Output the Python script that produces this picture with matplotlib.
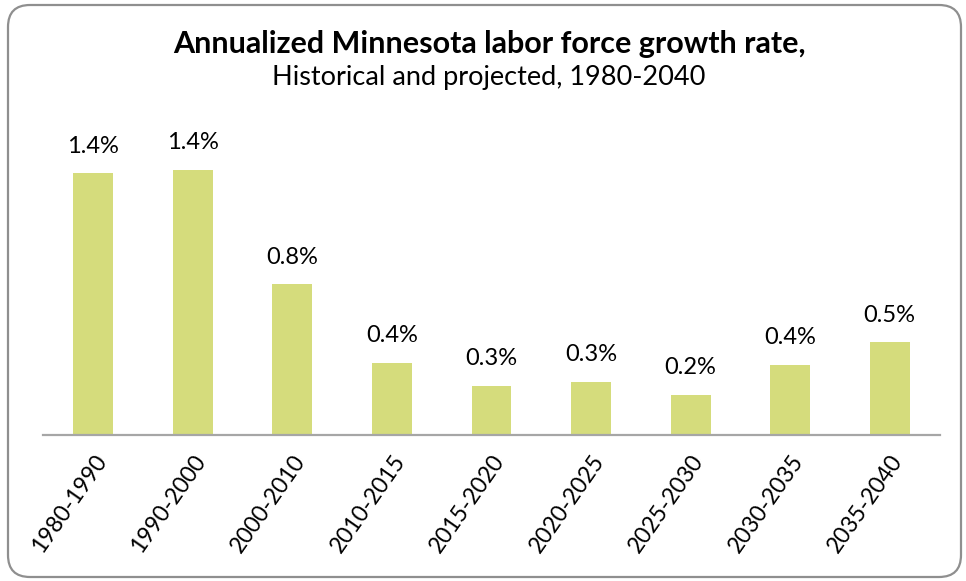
import matplotlib.pyplot as plt
from matplotlib.patches import FancyBboxPatch

periods = ["1980-1990", "1990-2000", "2000-2010", "2010-2015", "2015-2020",
           "2020-2025", "2025-2030", "2030-2035", "2035-2040"]
growth = [1.39, 1.41, 0.80, 0.38, 0.26, 0.28, 0.21, 0.37, 0.49]

title = "Annualized Minnesota labor force growth rate,"
subtitle = "Historical and projected, 1980-2040"

bar_color = "#d5dc7c"
font = ["Lato", "DejaVu Sans"]

plt.rcParams["font.family"] = font

fig = plt.figure(figsize=(9.66, 5.81), dpi=100)

# rounded frame around the whole chart (pixel units)
bg = fig.add_axes([0, 0, 1, 1])
bg.set_xlim(0, 966)
bg.set_ylim(0, 581)
bg.axis("off")
frame = FancyBboxPatch((8, 4), 953, 572, boxstyle="round,pad=0,rounding_size=22",
                       fc="white", ec="#8f8f8f", lw=1.6)
bg.add_patch(frame)

ax = fig.add_axes([43.5 / 966, 1 - 434.5 / 581, 896 / 966, 284.5 / 581])
ax.patch.set_alpha(0)
x = range(len(periods))
bars = ax.bar(x, growth, width=0.4, color=bar_color)
ax.set_xlim(-0.5, len(periods) - 0.5)
ax.set_ylim(0, 1.515)

for rect, v in zip(bars, growth):
    ax.annotate(f"{v:.1f}%", (rect.get_x() + rect.get_width() / 2, v),
                xytext=(0, 12), textcoords="offset points",
                ha="center", va="bottom", fontsize=17)

for side in ["top", "right", "left"]:
    ax.spines[side].set_visible(False)
ax.spines["bottom"].set_color("#a6a6a6")
ax.spines["bottom"].set_linewidth(1.6)
ax.set_yticks([])
ax.set_xticks(list(x))
ax.set_xticklabels(periods, rotation=55, ha="right", rotation_mode="anchor",
                   fontsize=16.5)
ax.tick_params(axis="x", length=0, pad=12)

fig.text(489 / 966, 1 - 44 / 581, title, ha="center", va="center",
         fontsize=22, fontweight="bold")
fig.text(489 / 966, 1 - 77 / 581, subtitle, ha="center", va="center",
         fontsize=19.5)

fig.savefig("out.png", dpi=100)
